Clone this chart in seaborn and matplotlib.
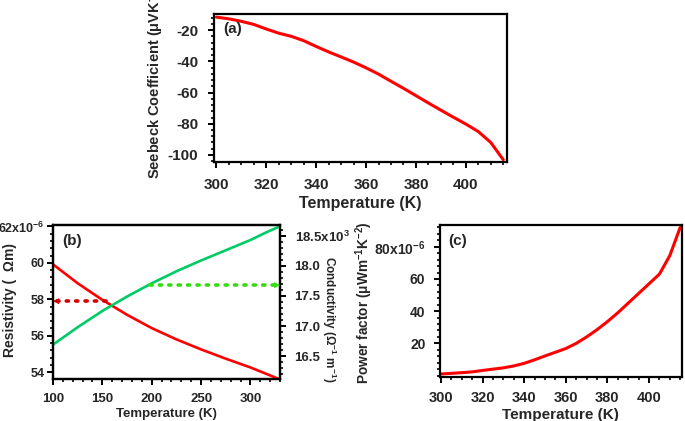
import numpy as np
import pandas as pd
import seaborn as sns
import matplotlib.pyplot as plt
from matplotlib.ticker import MultipleLocator, AutoMinorLocator, FuncFormatter

# (a) Seebeck coefficient vs temperature
temp_a = [300, 305, 310, 315, 320, 325, 330, 335, 340, 345, 350, 355,
          360, 365, 370, 375, 380, 385, 390, 395, 400, 405, 410, 415]
seebeck = [-11.7, -12.8, -14.4, -16.4, -19.3, -22, -24, -26.8, -30.5, -34, -37.2, -40.5,
           -44.2, -48.2, -52.8, -57.3, -62, -66.7, -71.3, -75.8, -80.2, -85, -92, -103]

# (b) resistivity (x1e-6 Ohm m) and conductivity (x1e3 1/(Ohm m))
temp_b = [100, 125, 150, 175, 200, 225, 250, 275, 300, 315, 330]
resist = [59.92, 58.88, 57.97, 57.15, 56.42, 55.8, 55.25, 54.74, 54.26, 53.93, 53.6]
conduct = [16.69, 16.98, 17.25, 17.49, 17.71, 17.91, 18.09, 18.26, 18.43, 18.55, 18.66]
# dotted arrows: x from, x to, y
arrow_res = [154, 100, 57.9]
arrow_con = [198, 330, 17.68]

# (c) power factor (x1e-6)
temp_c = temp_a
power = [1.0, 1.4, 1.8, 2.3, 3.2, 4.0, 4.8, 6.0, 7.6, 9.8, 12.2, 14.5,
         16.8, 20, 24, 28.5, 33.5, 39, 45, 51, 57, 63, 74.5, 92]

sns.set_style("ticks")
plt.rcParams['font.family'] = ['Liberation Sans', 'DejaVu Sans']
plt.rcParams['font.weight'] = 'bold'
plt.rcParams['axes.labelweight'] = 'bold'
plt.rcParams['axes.unicode_minus'] = False
plt.rcParams['mathtext.fontset'] = 'custom'
plt.rcParams['mathtext.rm'] = 'Liberation Sans:bold'
plt.rcParams['mathtext.bf'] = 'Liberation Sans:bold'
plt.rcParams['mathtext.it'] = 'Liberation Sans:bold'

RED = '#ff0000'
GREEN = '#00cc66'

fig = plt.figure(figsize=(6.85, 4.21), dpi=100)
ax_a = fig.add_axes([0.3124, 0.6152, 0.4277, 0.3515])
ax_b = fig.add_axes([0.0774, 0.1000, 0.3314, 0.3655])
ax_c = fig.add_axes([0.6423, 0.1052, 0.3528, 0.3603])
ax_b2 = ax_b.twinx()


def style(ax, fs=10, pad=5):
    for s in ax.spines.values():
        s.set_linewidth(1.6)
        s.set_color('black')
    ax.tick_params(which='major', direction='out', length=4.5, width=1.4,
                   labelsize=fs, color='black', pad=pad)
    ax.tick_params(which='minor', direction='out', length=2.4, width=1.2, color='black')
    ax.set_facecolor('white')


def dotted_arrow(ax, spec, color):
    x0, x1, y = spec
    ax.plot([x0, x1], [y, y], color=color, lw=2.6, linestyle=(0, (0.6, 2.0)),
            dash_capstyle='round')
    step = (x1 - x0) / abs(x1 - x0) * 6
    ax.annotate('', xy=(x1, y), xytext=(x1 - step, y),
                arrowprops=dict(arrowstyle='-|>', color=color, lw=0.5,
                                mutation_scale=9, shrinkA=0, shrinkB=0))


df_a = pd.DataFrame({'T': temp_a, 'S': seebeck})
sns.lineplot(data=df_a, x='T', y='S', ax=ax_a, color=RED, lw=2.2)
ax_a.set_xlim(299, 416.5)
ax_a.set_ylim(-104.5, -9.7)
ax_a.xaxis.set_major_locator(MultipleLocator(20))
ax_a.xaxis.set_minor_locator(AutoMinorLocator(4))
ax_a.yaxis.set_major_locator(MultipleLocator(20))
ax_a.yaxis.set_minor_locator(AutoMinorLocator(5))
style(ax_a, 11, pad=7)
ax_a.set_xlabel('Temperature (K)', fontsize=11.5, labelpad=3)
ax_a.set_ylabel(r'Seebeck Coefficient ($\mathregular{\mu}$VK$^{-1}$)', fontsize=10.5)
ax_a.yaxis.set_label_coords(-0.163, 0.545)
ax_a.text(0.03, 0.87, '(a)', transform=ax_a.transAxes, fontsize=11, fontweight='bold')

df_b = pd.DataFrame({'T': temp_b, 'R': resist, 'C': conduct})
sns.lineplot(data=df_b, x='T', y='R', ax=ax_b, color=RED, lw=1.9)
sns.lineplot(data=df_b, x='T', y='C', ax=ax_b2, color=GREEN, lw=1.9)
dotted_arrow(ax_b, arrow_res, '#d40000')
dotted_arrow(ax_b2, arrow_con, '#33dd11')
ax_b.set_xlim(100, 330)
ax_b.set_ylim(53.63, 62.08)
ax_b2.set_ylim(16.12, 18.68)
ax_b.xaxis.set_major_locator(MultipleLocator(50))
ax_b.xaxis.set_minor_locator(AutoMinorLocator(5))
ax_b.yaxis.set_major_locator(MultipleLocator(2))
ax_b.yaxis.set_minor_locator(AutoMinorLocator(5))
ax_b2.yaxis.set_major_locator(MultipleLocator(0.5))
ax_b2.yaxis.set_minor_locator(AutoMinorLocator(5))
ax_b.yaxis.set_major_formatter(FuncFormatter(
    lambda v, p: r'62x10$^{-6}$' if abs(v - 62) < 0.01 else '%d' % round(v)))
ax_b2.yaxis.set_major_formatter(FuncFormatter(
    lambda v, p: r'18.5x10$^{3}$' if abs(v - 18.5) < 0.01 else '%.1f' % v))
style(ax_b, 9.5, pad=2)
ax_b.tick_params(axis='y', labelsize=9, pad=1.5)
ax_b.tick_params(axis='x', pad=6)
style(ax_b2, 9.5, pad=6)
ax_b.set_xlabel('Temperature (K)', fontsize=9.5, labelpad=2)
ax_b.set_ylabel('Resistivity (  \u03a9m)', fontsize=10)
ax_b.yaxis.set_label_coords(-0.16, 0.51)
ax_b2.set_ylabel(r'Conductivity ($\Omega^{-1}$ m$^{-1}$)', fontsize=8.5, rotation=270)
ax_b2.yaxis.set_label_coords(1.255, 0.39)
ax_b.text(0.04, 0.87, '(b)', transform=ax_b.transAxes, fontsize=11, fontweight='bold')

df_c = pd.DataFrame({'T': temp_c, 'P': power})
sns.lineplot(data=df_c, x='T', y='P', ax=ax_c, color=RED, lw=2.2)
ax_c.set_xlim(299.5, 415.7)
ax_c.set_ylim(-0.7, 93.5)
ax_c.xaxis.set_major_locator(MultipleLocator(20))
ax_c.xaxis.set_minor_locator(AutoMinorLocator(4))
ax_c.set_yticks([20, 40, 60, 80])
ax_c.yaxis.set_minor_locator(MultipleLocator(4))
ax_c.yaxis.set_major_formatter(FuncFormatter(
    lambda v, p: r'80x10$^{-6}$' if abs(v - 80) < 0.01 else '%d' % round(v)))
style(ax_c, 10, pad=6)
ax_c.tick_params(axis='x', labelsize=10.5)
ax_c.set_xlabel('Temperature (K)', fontsize=11, labelpad=2)
ax_c.set_ylabel(r'Power factor ($\mathregular{\mu}$Wm$^{-1}$K$^{-2}$)', fontsize=9.8)
ax_c.yaxis.set_label_coords(-0.268, 0.49)
ax_c.text(0.035, 0.87, '(c)', transform=ax_c.transAxes, fontsize=11, fontweight='bold')

fig.savefig('out.png', dpi=100)
